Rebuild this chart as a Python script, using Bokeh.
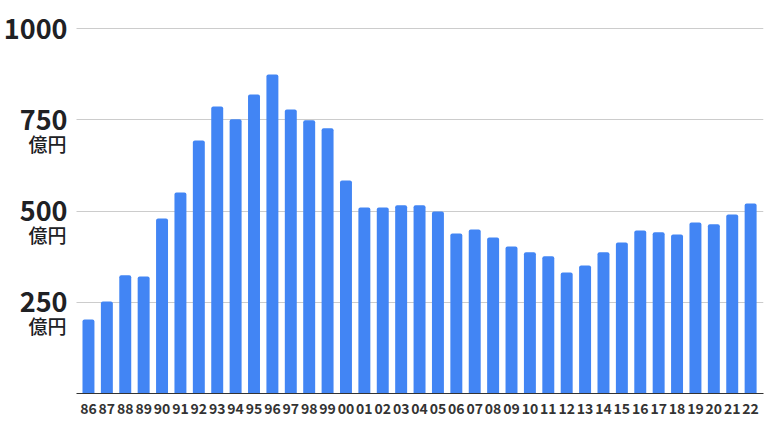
from bokeh.plotting import figure
from bokeh.models import ColumnDataSource, FixedTicker, Label, Range1d
from bokeh.embed import file_html
from bokeh.resources import INLINE

years = ["86", "87", "88", "89", "90", "91", "92", "93", "94", "95", "96", "97", "98", "99",
         "00", "01", "02", "03", "04", "05", "06", "07", "08", "09", "10", "11", "12", "13",
         "14", "15", "16", "17", "18", "19", "20", "21", "22"]
values = [203, 252, 324, 321, 480, 551, 694, 787, 752, 820, 875, 779, 749, 727,
          584, 510, 510, 516, 516, 499, 439, 450, 428, 403, 387, 376, 332, 351,
          387, 414, 447, 442, 436, 469, 464, 491, 521]
y_ticks = [250, 500, 750, 1000]
unit_label = "億円"
unit_ticks = [250, 500, 750]

idx = list(range(len(years)))
src = ColumnDataSource(dict(x=idx, top=values, label=years))

FONT = "Noto Sans CJK JP"
FONT_MED = "'Noto Sans CJK JP Medium', 'Noto Sans CJK JP'"
PX = 18.39              # pixels per bar slot
LEFT_PAD = 76 / PX      # room for the y labels, in slot units
x0 = -0.65
x1 = len(years) - 1 + 0.70
y_top = 1066.6          # head-room above the 1000 line so its label is not cut

p = figure(width=768, height=419, output_backend="svg", toolbar_location=None,
           x_range=Range1d(x0 - LEFT_PAD, x1), y_range=Range1d(0, y_top),
           min_border_left=0, min_border_right=5, min_border_top=4, min_border_bottom=26)
p.outline_line_color = None

p.vbar(x="x", top="top", bottom=0, width=0.65, source=src, fill_color="#4285F4",
       line_color=None, border_radius=(2, 2, 0, 0))

xa = p.xaxis[0]
xa.ticker = FixedTicker(ticks=idx)
xa.major_label_overrides = {i: y for i, y in zip(idx, years)}
xa.major_tick_line_color = None
xa.minor_tick_line_color = None
xa.axis_line_color = "#333333"
xa.bounds = (x0, x1)
xa.major_label_text_font = FONT
xa.major_label_text_font_size = "14px"
xa.major_label_text_font_style = "bold"
xa.major_label_text_color = "#333333"
xa.major_label_standoff = 3
p.xgrid.visible = False

ya = p.yaxis[0]
ya.fixed_location = x0
ya.ticker = FixedTicker(ticks=y_ticks)
ya.major_tick_line_color = None
ya.minor_tick_line_color = None
ya.axis_line_color = None
ya.major_label_text_font = FONT
ya.major_label_text_font_size = "27px"
ya.major_label_text_font_style = "bold"
ya.major_label_text_color = "#202124"
ya.major_label_standoff = 3
p.ygrid.ticker = FixedTicker(ticks=y_ticks)
p.ygrid.grid_line_color = "#cccccc"
p.ygrid.cross_bounds = (x0, x1)

for t in unit_ticks:
    p.add_layout(Label(x=x0, y=t, x_offset=-10, y_offset=-10, text=unit_label,
                       text_align="right", text_baseline="top", text_font=FONT_MED,
                       text_font_size="19px", text_color="#202124"))

open("out.html", "w").write(file_html(p, INLINE))
